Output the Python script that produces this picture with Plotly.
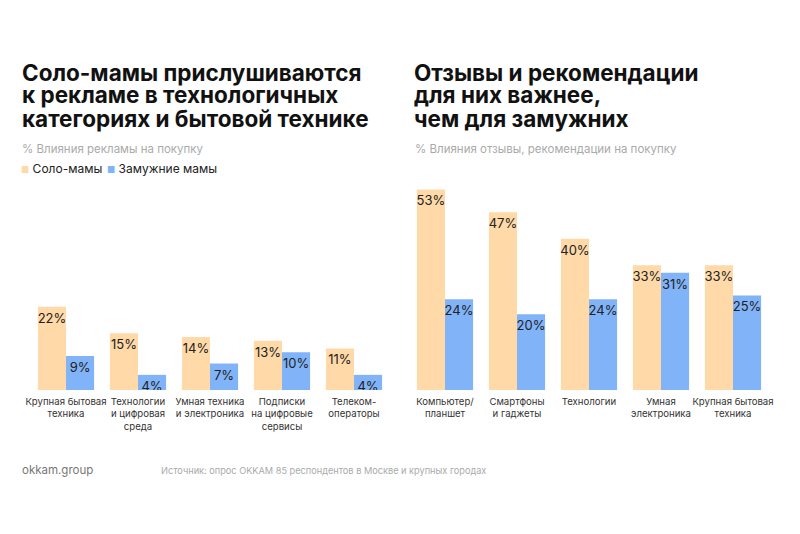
import plotly.graph_objects as go

# left chart: ad influence
ad_categories = [
    "Крупная бытовая<br>техника",
    "Технологии<br>и цифровая<br>среда",
    "Умная техника<br>и электроника",
    "Подписки<br>на цифровые<br>сервисы",
    "Телеком-<br>операторы",
]
ad_solo = [22, 15, 14, 13, 11]
ad_married = [9, 4, 7, 10, 4]

# right chart: reviews / recommendations influence
rev_categories = [
    "Компьютер/<br>планшет",
    "Смартфоны<br>и гаджеты",
    "Технологии",
    "Умная<br>электроника",
    "Крупная бытовая<br>техника",
]
rev_solo = [53, 47, 40, 33, 33]
rev_married = [24, 20, 24, 31, 25]

ORANGE = "#FFD9A8"
BLUE = "#80B3F8"
FONT = "Inter"

W, H = 800, 534
OFF = 8  # page body margin
TOP, BOTTOM = 163 - OFF, 390 - OFF


def py(y):
    # page pixel row -> paper y
    return (BOTTOM - (y - OFF)) / (BOTTOM - TOP)


def px(x):
    return (x - OFF) / W


fig = go.Figure()


def add_bars(cats, solo, married, xa, ya):
    for name, vals, color in [("Соло-мамы", solo, ORANGE), ("Замужние мамы", married, BLUE)]:
        fig.add_trace(go.Bar(
            x=cats, y=vals, name=name,
            marker_color=color, marker_line_width=0,
            text=[f"{v}%" for v in vals],
            textposition="inside", insidetextanchor="end",
            constraintext="none", textangle=0,
            textfont=dict(family=FONT, size=13, color="#222222"),
            xaxis=xa, yaxis=ya, showlegend=False,
        ))


add_bars(ad_categories, ad_solo, ad_married, "x", "y")
add_bars(rev_categories, rev_solo, rev_married, "x2", "y2")

axis_x = dict(showgrid=False, zeroline=False, showline=False, ticks="",
              tickangle=0, automargin=False, ticklabelstandoff=4,
              tickfont=dict(family=FONT, size=9.6, color="#333333"), fixedrange=True)
axis_y = dict(range=[0, 60], visible=False, fixedrange=True, automargin=False)

fig.update_layout(
    width=W, height=H,
    margin=dict(l=0, r=0, t=TOP, b=H - BOTTOM, autoexpand=False),
    paper_bgcolor="white", plot_bgcolor="white",
    barmode="group", bargap=0.22, bargroupgap=0,
    font=dict(family=FONT),
    xaxis=dict(axis_x, domain=[px(30), px(390)], anchor="y"),
    yaxis=dict(axis_y, anchor="x"),
    xaxis2=dict(axis_x, domain=[px(409), px(769)], anchor="y2"),
    yaxis2=dict(axis_y, anchor="x2"),
)

titles = [
    (20, ["Соло-мамы прислушиваются", "к рекламе в технологичных", "категориях и бытовой технике"]),
    (412, ["Отзывы и рекомендации", "для них важнее,", "чем для замужних"]),
]
for x0, lines in titles:
    for i, line in enumerate(lines):
        fig.add_annotation(
            text=f"<b>{line}</b>", x=px(x0), y=py(72 + i * 23),
            xref="paper", yref="paper", xanchor="left", yanchor="middle",
            showarrow=False, font=dict(family=FONT, size=22.5, color="#111111"),
        )

subtitles = [(20, "% Влияния рекламы на покупку"), (413, "% Влияния отзывы, рекомендации на покупку")]
for x0, s in subtitles:
    fig.add_annotation(
        text=s, x=px(x0), y=py(149), xref="paper", yref="paper",
        xanchor="left", yanchor="middle", showarrow=False,
        font=dict(family=FONT, size=11.5, color="#AAAAAA"),
    )

legend_items = [(19, "Соло-мамы", ORANGE), (105, "Замужние мамы", BLUE)]
for x0, label, color in legend_items:
    fig.add_annotation(
        text=f'<span style="color:{color};font-size:9px">■</span> {label}',
        x=px(x0), y=py(168), xref="paper", yref="paper",
        xanchor="left", yanchor="middle", showarrow=False,
        font=dict(family=FONT, size=12, color="#222222"),
    )

fig.add_annotation(
    text="okkam.group", x=px(20), y=py(470), xref="paper", yref="paper",
    xanchor="left", yanchor="middle", showarrow=False,
    font=dict(family=FONT, size=11.5, color="#777777"),
)
fig.add_annotation(
    text="Источник: опрос OKKAM 85 респондентов в Москве и крупных городах",
    x=px(159), y=py(470), xref="paper", yref="paper",
    xanchor="left", yanchor="middle", showarrow=False,
    font=dict(family=FONT, size=9.2, color="#AAAAAA"),
)

fig.write_html("out.html")
